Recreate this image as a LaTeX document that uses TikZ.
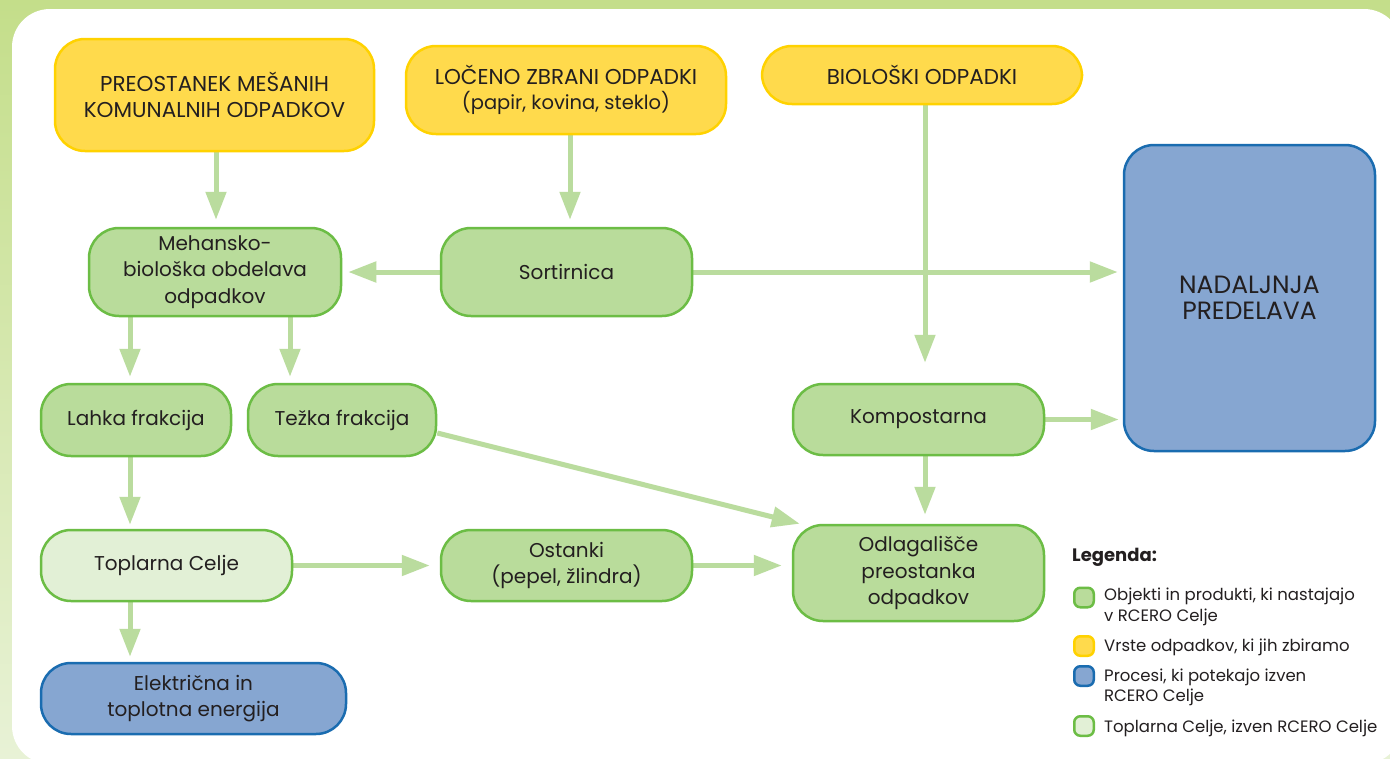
\documentclass[tikz,border=0pt]{standalone}
\usepackage{fontspec}
\setmainfont{Poppins}
\usetikzlibrary{arrows.meta,calc}
\definecolor{bandtop}{HTML}{C4DE8A}
\definecolor{bandbot}{HTML}{E8F2D6}
\definecolor{yfill}{HTML}{FFDA4C}
\definecolor{ydraw}{HTML}{FFD200}
\definecolor{gfill}{HTML}{B9DC9B}
\definecolor{gdraw}{HTML}{6CBD45}
\definecolor{lfill}{HTML}{E2F0D6}
\definecolor{bfill}{HTML}{86A6D1}
\definecolor{bdraw}{HTML}{1A6CB0}
\definecolor{arrcol}{HTML}{BADC9E}
\definecolor{txt}{HTML}{231F20}
\pgfdeclarelayer{panel}
\pgfdeclarelayer{links}
\pgfsetlayers{panel,links,main}
\begin{document}
\begin{tikzpicture}[x=1pt,y=-1pt,
 box/.style={rounded corners=30pt, line width=2.5pt, align=center, inner sep=0pt, text=txt, font=\fontsize{20}{26.5}\selectfont},
 ybox/.style={box, fill=yfill, draw=ydraw, font=\fontsize{21.5}{25.5}\selectfont},
 gbox/.style={box, fill=gfill, draw=gdraw},
 lbox/.style={box, fill=lfill, draw=gdraw},
 bbox/.style={box, fill=bfill, draw=bdraw},
 arr/.style={draw=arrcol, line width=5pt, -{Triangle[width=20pt,length=28pt]}, arrcol},
 leg/.style={rounded corners=6pt, line width=2.5pt, minimum width=19.5pt, minimum height=19.5pt, inner sep=0pt},
 legtxt/.style={anchor=west, align=left, text=txt, inner sep=0pt, font=\fontsize{16.5}{20.5}\selectfont}
]
\useasboundingbox (0,0) rectangle (1390,758);
\begin{pgfonlayer}{panel}
\shade[top color=bandtop, bottom color=bandbot] (0,0) rectangle (1390,758);
\fill[white, rounded corners=38pt] (12,9) rectangle (1402,764);
\end{pgfonlayer}

\node[ybox, minimum width=319pt, minimum height=112pt] (pre) at (214.5,95) {PREOSTANEK MEŠANIH\\KOMUNALNIH ODPADKOV};
\node[ybox, minimum width=320pt, minimum height=88pt] (loc) at (566,90) {LOČENO ZBRANI ODPADKI\\{\fontsize{19.5}{25.5}\selectfont (papir, kovina, steklo)}};
\node[ybox, minimum width=320pt, minimum height=58pt] (bio) at (922,75) {BIOLOŠKI ODPADKI};
\node[bbox, minimum width=251pt, minimum height=306pt, font=\fontsize{25}{26.5}\selectfont] (nad) at (1249.5,298) {NADALJNJA\\PREDELAVA};
\node[gbox, minimum width=252pt, minimum height=88pt] (meh) at (215,272) {Mehansko-\\biološka obdelava\\odpadkov};
\node[gbox, minimum width=251pt, minimum height=88pt] (sor) at (566.5,272) {Sortirnica};
\node[gbox, minimum width=190pt, minimum height=72pt] (lah) at (136,420) {Lahka frakcija};
\node[gbox, minimum width=188pt, minimum height=72pt] (tez) at (342,420) {Težka frakcija};
\node[gbox, minimum width=251pt, minimum height=71pt] (kom) at (918.5,419.5) {Kompostarna};
\node[lbox, minimum width=251pt, minimum height=71pt] (topl) at (166.5,565.5) {Toplarna Celje};
\node[gbox, minimum width=251pt, minimum height=71pt] (ost) at (566.5,565.5) {Ostanki\\(pepel, žlindra)};
\node[gbox, minimum width=251pt, minimum height=96pt] (odl) at (918.5,573) {Odlagališče\\preostanka\\odpadkov};
\node[bbox, minimum width=305pt, minimum height=71pt] (ele) at (193.5,698.5) {Električna in\\toplotna energija};

\begin{pgfonlayer}{links}
\draw[arr, shorten >=7pt] ([xshift=1.5pt]pre.south) -- ([xshift=1.5pt]pre.south |- meh.north);
\draw[arr, shorten >=7pt] ([xshift=4pt]loc.south) -- ([xshift=4pt]loc.south |- sor.north);
\draw[arr, shorten >=6pt] (sor.west) -- (meh.east);
\draw[arr, shorten >=5pt] (sor.east) -- (sor.east -| nad.west);
\draw[arr, shorten >=20pt] ([xshift=3pt]bio.south) -- ([xshift=3pt]bio.south |- kom.north);
\draw[arr, shorten >=6pt] ([xshift=-85pt]meh.south) -- ([xshift=-85pt]meh.south |- lah.north);
\draw[arr, shorten >=6pt] ([xshift=75pt]meh.south) -- ([xshift=75pt]meh.south |- tez.north);
\draw[arr, shorten >=4pt] ([xshift=-6pt]lah.south) -- ([xshift=-6pt]lah.south |- topl.north);
\draw[arr, shorten >=5pt] ([xshift=-36.5pt]topl.south) -- ([xshift=-36.5pt]topl.south |- ele.north);
\draw[arr, shorten >=10pt] (topl.east) -- (ost.west);
\draw[arr, shorten >=10pt] (ost.east) -- (ost.east -| odl.west);
\draw[arr] ([yshift=-13pt]tez.east) -- ([xshift=8pt]odl.north west);
\draw[arr, shorten >=9pt] ([xshift=6.5pt]kom.south) -- ([xshift=6.5pt]kom.south |- odl.north);
\draw[arr, shorten >=4pt] (kom.east) -- (kom.east -| nad.west);
\end{pgfonlayer}

\node[anchor=west, inner sep=0pt, text=txt, font=\bfseries\fontsize{18}{20}\selectfont] (legt) at (1072,557) {Legenda:};
\node[leg, fill=gfill, draw=gdraw] (l1) at (1084,597.5) {};
\node[legtxt] (t1) at (1104,607) {Objekti in produkti, ki nastajajo\\v RCERO Celje};
\node[leg, fill=yfill, draw=ydraw] (l2) at (1084,646) {};
\node[legtxt] (t2) at (1104,647) {Vrste odpadkov, ki jih zbiramo};
\node[leg, fill=bfill, draw=bdraw] (l3) at (1084,676) {};
\node[legtxt] (t3) at (1104,687.5) {Procesi, ki potekajo izven\\RCERO Celje};
\node[leg, fill=lfill, draw=gdraw] (l4) at (1084,726) {};
\node[legtxt] (t4) at (1104,728) {Toplarna Celje, izven RCERO Celje};
\end{tikzpicture}
\end{document}
